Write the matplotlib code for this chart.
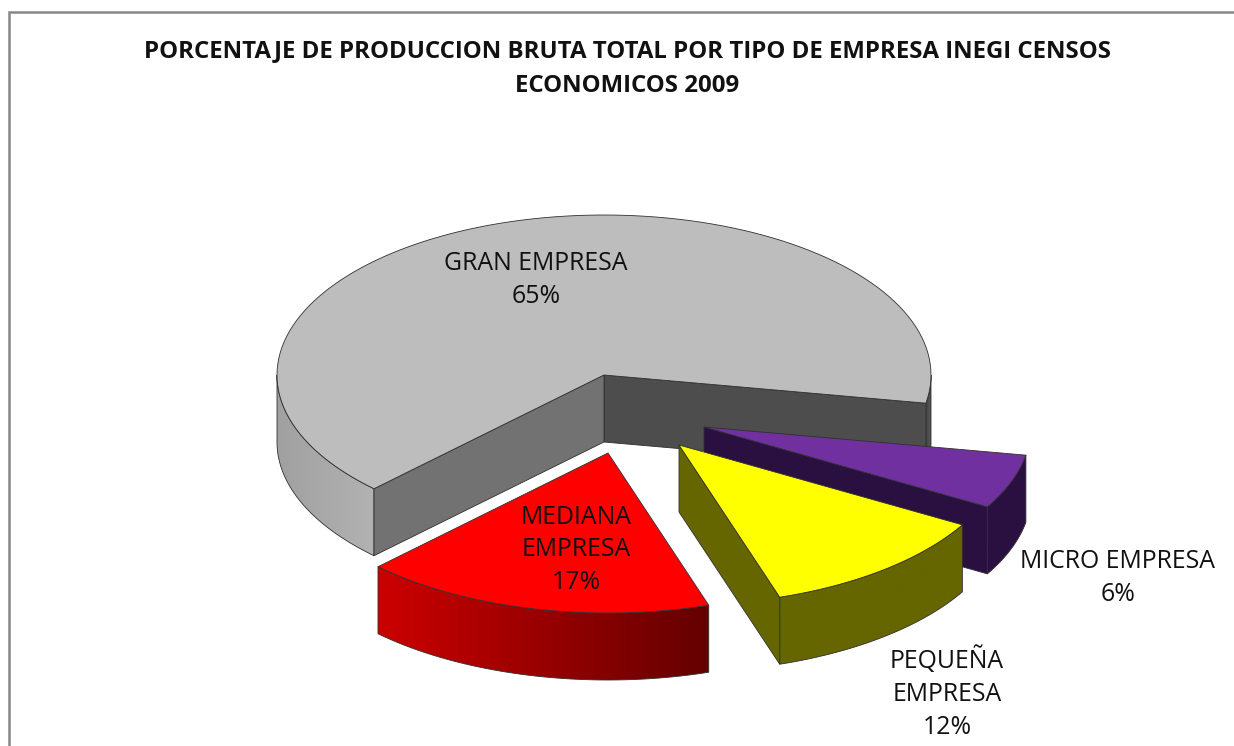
import numpy as np
import matplotlib
matplotlib.use("Agg")
import matplotlib.pyplot as plt
from matplotlib.colors import LinearSegmentedColormap
from matplotlib.patches import Polygon, Rectangle

# data
names = ["GRAN EMPRESA", "MICRO EMPRESA", "PEQUEÑA\nEMPRESA", "MEDIANA\nEMPRESA"]
shares = [65.4, 5.5, 11.7, 17.4]
title = "PORCENTAJE DE PRODUCCION BRUTA TOTAL POR TIPO DE EMPRESA INEGI CENSOS\nECONOMICOS 2009"

# look of each slice
top_colors = ["#bdbdbd", "#7030a0", "#ffff00", "#ff0000"]
wall_left = ["#a0a0a0", "#2a1040", "#666600", "#cc0000"]
wall_right = ["#b2b2b2", "#2a1040", "#666600", "#640000"]
explode = [(0, 0), (100, 52), (75, 70), (4, 78)]
label_pos = [(536, 280), (1118, 578), (947, 693), (576, 550)]

cx, cy = 604, 375
rx, ry = 327, 160
depth = 67
start = 225.3  # slices run clockwise from here
edge = "#303030"


def ring(x0, y0, a, b, n=120):
    t = np.radians(np.linspace(a, b, n))
    return x0 + rx * np.cos(t), y0 - ry * np.sin(t)


def point(x0, y0, a):
    x, y = ring(x0, y0, a, a, 1)
    return x[0], y[0]


def face(ax, pts, color, z):
    ax.add_patch(Polygon(pts, closed=True, fc=color, ec=edge, lw=0.6, zorder=z, joinstyle="round"))


def cut_face(ax, x0, y0, a, color, z):
    ex, ey = point(x0, y0, a)
    face(ax, [(x0, y0), (ex, ey), (ex, ey + depth), (x0, y0 + depth)], color, z)


def outer_wall(ax, x0, y0, a, b, c1, c2, z):
    # rim part between a and b, shaded left to right
    x, y = ring(x0, y0, a, b, 200)
    pts = list(zip(x, y)) + list(zip(x[::-1], y[::-1] + depth))
    poly = Polygon(pts, closed=True, fc="none", ec=edge, lw=0.6, zorder=z + 0.1)
    ax.add_patch(poly)
    cmap = LinearSegmentedColormap.from_list("wall", [c1, c2])
    im = ax.imshow(np.linspace(0, 1, 256).reshape(1, -1), cmap=cmap, aspect="auto", zorder=z,
                   extent=(x.min(), x.max(), y.max() + depth, y.min()), interpolation="bilinear")
    im.set_clip_path(poly)


fig = plt.figure(figsize=(12.34, 7.46), dpi=100)
ax = fig.add_axes([0, 0, 1, 1])

ax.add_patch(Rectangle((9, 12), 1300, 800, fc="white", ec="#868686", lw=1.8, zorder=0))

angle = start
for i in range(len(shares)):
    sweep = shares[i] / sum(shares) * 360
    a1, a0 = angle, angle - sweep
    angle = a0
    x0, y0 = cx + explode[i][0], cy + explode[i][1]
    z = 1 + i * 2

    if i == 0:
        # big slice shows both cut faces and two bits of rim
        outer_wall(ax, x0, y0, a0, 0, "#454545", "#5a5a5a", z)
        cut_face(ax, x0, y0, a0, "#4d4d4d", z + 0.2)
        outer_wall(ax, x0, y0, 180, a1, wall_left[i], wall_right[i], z)
        cut_face(ax, x0, y0, a1, "#727272", z + 0.2)
    else:
        if i < 3:
            # the lower cut face is seen on these two
            cut_face(ax, x0, y0, a0, wall_left[i], z + 0.2)
        outer_wall(ax, x0, y0, a0 % 360, a1 % 360, wall_left[i], wall_right[i], z)

    xs, ys = ring(x0, y0, a0, a1)
    face(ax, [(x0, y0)] + list(zip(xs, ys)), top_colors[i], z + 0.5)

for i in range(len(names)):
    ax.text(label_pos[i][0], label_pos[i][1], f"{names[i]}\n{round(shares[i])}%", ha="center", va="center",
            fontsize=17.9, family="Open Sans", color="#111111", linespacing=1.42, zorder=20)

ax.text(627, 68.5, title, ha="center", va="center", fontsize=17.3, family="Open Sans", weight="bold",
        color="#111111", linespacing=1.6, zorder=20)

ax.set_xlim(0, 1234)
ax.set_ylim(746, 0)
ax.axis("off")
fig.savefig("out.png", dpi=100)
